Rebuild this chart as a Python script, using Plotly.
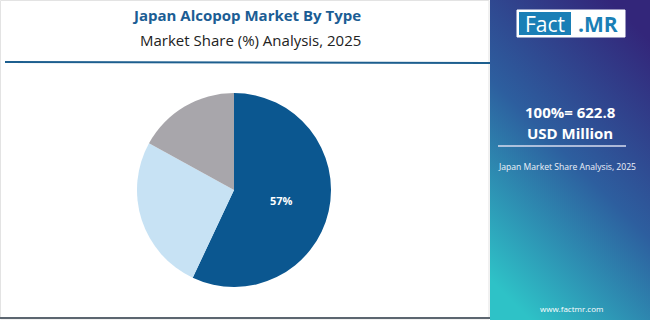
import plotly.graph_objects as go
import base64

# Data
categories = ["Segment A", "Segment B", "Segment C"]
shares = [57, 26, 17]
labels_shown = ["57%", "", ""]
colors = ["#0b5790", "#c7e2f4", "#a8a6ab"]

title_text = "Japan Alcopop Market By Type"
subtitle_text = "Market Share (%) Analysis, 2025"
total_line1 = "100%= 622.8"
total_line2 = "USD Million"
side_caption = "Japan Market Share Analysis, 2025"
site = "www.factmr.com"

FONT = "Open Sans"

fig = go.Figure()
fig.add_trace(go.Pie(
    labels=categories, values=shares, text=labels_shown, textinfo="text",
    sort=False, direction="clockwise", rotation=0,
    marker=dict(colors=colors, line=dict(width=0)),
    textposition="inside", insidetextorientation="horizontal",
    textfont=dict(family=FONT, size=11, color="white", weight="bold"),
    domain=dict(x=[(234 - 97) / 650, (234 + 97) / 650], y=[1 - (190 + 97) / 320, 1 - (190 - 97) / 320]),
    showlegend=False, hoverinfo="label+percent",
))

svg = ('<svg xmlns="http://www.w3.org/2000/svg" width="160" height="320">'
       '<defs><linearGradient id="g" x1="0.75" y1="0" x2="0.25" y2="1">'
       '<stop offset="0" stop-color="#33267a"/>'
       '<stop offset="0.5" stop-color="#2d5f9f"/>'
       '<stop offset="1" stop-color="#2ec2c7"/>'
       '</linearGradient></defs>'
       '<rect width="160" height="320" fill="url(#g)"/></svg>')
src = "data:image/svg+xml;base64," + base64.b64encode(svg.encode()).decode()

def px(x):
    return x / 650

def py(y):
    return 1 - y / 320

shapes = [
    # left panel faint border
    dict(type="rect", xref="paper", yref="paper", x0=px(0.5), x1=px(489), y0=py(0.5), y1=py(319),
         line=dict(color="#e3e3e3", width=1), fillcolor="rgba(0,0,0,0)"),
    # blue title rule
    dict(type="line", xref="paper", yref="paper", x0=px(5), x1=px(490), y0=py(62), y1=py(63),
         line=dict(color="#1d5f8f", width=2)),
    # bottom rule
    dict(type="line", xref="paper", yref="paper", x0=px(0), x1=px(490), y0=py(318), y1=py(318),
         line=dict(color="#5c6670", width=2)),
    # logo outer white box
    dict(type="rect", xref="paper", yref="paper", x0=px(517), x1=px(625), y0=py(10), y1=py(37),
         line=dict(color="white", width=1), fillcolor="white"),
    # logo blue part
    dict(type="rect", xref="paper", yref="paper", x0=px(519), x1=px(571), y0=py(12), y1=py(35),
         line=dict(width=0), fillcolor="#1a7fb6"),
    # side rule
    dict(type="line", xref="paper", yref="paper", x0=px(498), x1=px(626), y0=py(146), y1=py(146),
         line=dict(color="#d8dcef", width=1.5)),
]

annotations = [
    dict(text=title_text, x=px(246), y=py(15), font=dict(family=FONT, size=15, color="#1b5d94", weight="bold")),
    dict(text=subtitle_text, x=px(250), y=py(40), font=dict(family=FONT, size=15, color="#222222")),
    dict(text="Fact", x=px(545), y=py(23.5), font=dict(family=FONT, size=21, color="white")),
    dict(text=".MR", x=px(598), y=py(23.5), font=dict(family=FONT, size=21, color="#1a7fb6", weight="bold")),
    dict(text=total_line1, x=px(570), y=py(112), font=dict(family=FONT, size=15, color="white", weight="bold")),
    dict(text=total_line2, x=px(570), y=py(133), font=dict(family=FONT, size=15, color="white", weight="bold")),
    dict(text=side_caption, x=px(567), y=py(167), font=dict(family=FONT, size=8.6, color="#eef2fa")),
    dict(text=site, x=px(571), y=py(308), font=dict(family=FONT, size=8, color="white")),
]
for a in annotations:
    a.update(xref="paper", yref="paper", showarrow=False, xanchor="center", yanchor="middle")

fig.update_layout(
    width=650, height=320, margin=dict(l=0, r=0, t=0, b=0),
    paper_bgcolor="white", plot_bgcolor="white",
    shapes=shapes, annotations=annotations,
    images=[dict(source=src, xref="paper", yref="paper", x=px(490), y=1, sizex=px(160), sizey=1,
                 xanchor="left", yanchor="top", sizing="stretch", layer="below")],
)

fig.write_html("out.html")
